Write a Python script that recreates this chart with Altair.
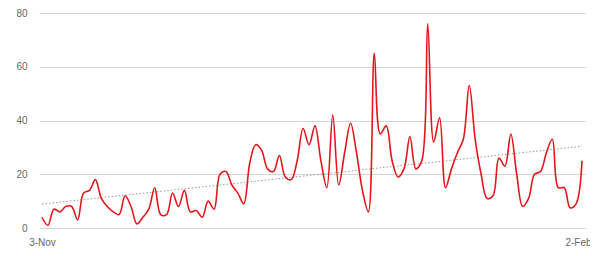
import altair as alt
import pandas as pd

start_date = "2019-11-03"
x_tick_labels = ["3-Nov", "2-Feb"]
y_ticks = [0, 20, 40, 60, 80]

values = [
    4, 1, 7, 6, 8, 8, 3, 13, 14, 18,
    11, 8, 6, 5, 12, 8, 1.5, 4, 7, 15,
    5, 5, 13, 8, 14, 6, 6.5, 4, 10, 7,
    20, 21, 16, 13, 9, 24, 31, 29, 22, 21,
    27, 19, 18, 25, 37, 31, 38, 25, 15, 42,
    16, 28, 39, 28, 14, 6, 65, 35, 38, 25,
    19, 22, 34, 22, 25, 76, 32, 41, 15, 22,
    28, 33, 53, 33, 20, 11, 12, 26, 23, 35,
    20, 8, 11, 20, 21, 28, 33, 15, 15, 7.5,
    9, 25,
]

dates = pd.date_range(start_date, periods=len(values), freq="D").strftime("%Y-%m-%dT00:00:00")
df = pd.DataFrame({"date": dates, "value": values})

x_enc = alt.X(
    "date:T",
    scale=alt.Scale(padding=3),
    axis=alt.Axis(
        values=[alt.DateTime(year=2019, month=11, date=3), alt.DateTime(year=2020, month=2, date=2)],
        labelExpr=f"datum.index == 0 ? '{x_tick_labels[0]}' : '{x_tick_labels[1]}'",
        grid=False, domain=False, ticks=False, title=None,
        labelFont="Liberation Sans", labelFontSize=10, labelColor="#666666",
        labelPadding=9, labelFlush=False,
        labelAlign={"condition": {"test": "datum.index == 1", "value": "right"}, "value": "center"},
        labelOffset={"condition": {"test": "datum.index == 1", "value": 9}, "value": 0},
    ),
)

y_enc = alt.Y(
    "value:Q",
    scale=alt.Scale(domain=[0, 80], nice=False),
    axis=alt.Axis(
        values=y_ticks, title=None, domain=False, ticks=False,
        gridColor="#d4d4d4", gridWidth=1,
        labelFont="Liberation Sans", labelFontSize=10, labelColor="#666666",
        labelPadding=12,
    ),
)

line = alt.Chart(df).mark_line(
    color="#e3161b", strokeWidth=1.6, interpolate="catmull-rom"
).encode(x=x_enc, y=y_enc)

trend = alt.Chart(df).transform_regression("date", "value").mark_line(
    color="#999999", strokeWidth=1, strokeDash=[1.5, 2]
).encode(x="date:T", y="value:Q")

chart = alt.layer(trend, line).properties(
    width=546, height=215,
    autosize=alt.AutoSizeParams(type="none"),
    padding={"left": 31, "top": 5, "right": 5, "bottom": 20},
).configure_view(stroke=None)

chart.save("out.html", embed_options={"renderer": "svg", "actions": False})
